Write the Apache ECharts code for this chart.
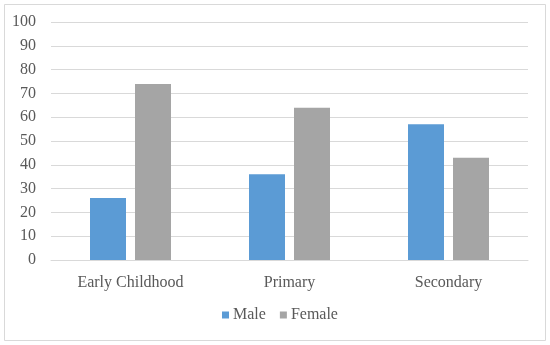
<!DOCTYPE html>
<html><head><meta charset="utf-8">
<script src="https://cdn.jsdelivr.net/npm/echarts@6/dist/echarts.min.js"></script>
<style>html,body{margin:0;padding:0;background:#fff}#c{width:550px;height:345px}</style>
</head><body><div id="c"></div>
<script>
const categories = ["Early Childhood", "Primary", "Secondary"];
const maleValues = [26, 36, 57];
const femaleValues = [74, 64, 43];
const seriesNames = ["Male", "Female"];

const chart = echarts.init(document.getElementById('c'), null, {renderer: 'canvas'});
const font = "'Liberation Serif', 'DejaVu Serif', serif";
chart.setOption({
  animation: false,
  backgroundColor: '#fff',
  graphic: [{type: 'rect', shape: {x: 4.5, y: 4.5, width: 541, height: 336}, style: {fill: 'none', stroke: '#D9D9D9', lineWidth: 1}}],
  grid: {left: 51, right: 22, top: 22, bottom: 85, containLabel: false},
  legend: {
    data: seriesNames, bottom: 17, left: 217, itemWidth: 7, itemHeight: 7, itemGap: 14,
    icon: 'rect', textStyle: {fontFamily: font, fontSize: 16, color: '#595959', padding: [0, 0, 0, -1]}
  },
  xAxis: {
    type: 'category', data: categories,
    axisLine: {lineStyle: {color: '#D9D9D9'}}, axisTick: {show: false},
    axisLabel: {fontFamily: font, fontSize: 16, color: '#595959', margin: 15}
  },
  yAxis: {
    type: 'value', min: 0, max: 100, interval: 10,
    axisLine: {show: false}, axisTick: {show: false},
    splitLine: {lineStyle: {color: '#D9D9D9'}},
    axisLabel: {fontFamily: font, fontSize: 16, color: '#595959', margin: 15}
  },
  series: [
    {name: seriesNames[0], type: 'bar', data: maleValues, barWidth: 36, barGap: '25%', itemStyle: {color: '#5B9BD5'}},
    {name: seriesNames[1], type: 'bar', data: femaleValues, barWidth: 36, barGap: '25%', itemStyle: {color: '#A5A5A5'}}
  ]
});
</script></body></html>
